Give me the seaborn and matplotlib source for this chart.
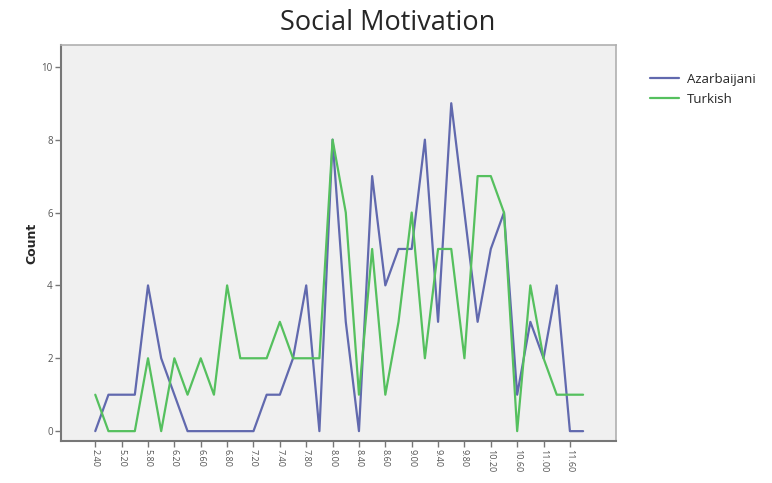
import pandas as pd
import matplotlib.pyplot as plt
import seaborn as sns

# score categories (x axis, categorical, in order)
scores = [
    "2.40", "4.80", "5.20", "5.60", "5.80", "6.00", "6.20", "6.40", "6.60", "6.70",
    "6.80", "7.00", "7.20", "7.30", "7.40", "7.60", "7.80", "7.90", "8.00", "8.20",
    "8.40", "8.50", "8.60", "8.80", "9.00", "9.20", "9.40", "9.60", "9.80", "10.00",
    "10.20", "10.40", "10.60", "10.80", "11.00", "11.20", "11.60", "11.80",
]
azarbaijani = [0, 1, 1, 1, 4, 2, 1, 0, 0, 0, 0, 0, 0, 1, 1, 2, 4, 0, 8, 3,
               0, 7, 4, 5, 5, 8, 3, 9, 6, 3, 5, 6, 1, 3, 2, 4, 0, 0]
turkish = [1, 0, 0, 0, 2, 0, 2, 1, 2, 1, 4, 2, 2, 2, 3, 2, 2, 2, 8, 6,
           1, 5, 1, 3, 6, 2, 5, 5, 2, 7, 7, 6, 0, 4, 2, 1, 1, 1]
groups = ["Azarbaijani", "Turkish"]
colors = ["#6169ae", "#55c05e"]

df = pd.DataFrame({
    "score": scores * 2,
    "count": azarbaijani + turkish,
    "group": [groups[0]] * len(scores) + [groups[1]] * len(scores),
})

sns.set_style("white")
plt.rcParams["font.family"] = ["Open Sans", "DejaVu Sans"]

fig = plt.figure(figsize=(7.72, 4.83), dpi=100)
ax = fig.add_axes([0.079, 0.087, 0.719, 0.82])
ax.set_facecolor("#f0f0f0")

sns.lineplot(data=df, x="score", y="count", hue="group", palette=colors,
             sort=False, linewidth=1.6, ax=ax)

ax.set_xlim(-2.6, 39.5)
ax.set_ylim(-0.27, 10.6)
ax.set_yticks([0, 2, 4, 6, 8, 10])
ax.set_yticklabels(["0", "2", "4", "6", "8", "10"], fontsize=7, color="#555555")
ax.set_xticks(range(0, len(scores), 2))
ax.set_xticklabels(scores[::2], rotation=-90, fontsize=6.5, color="#555555")
ax.tick_params(axis="both", direction="out", length=4, width=1, color="#777777", pad=2)
ax.tick_params(left=True, bottom=True)

for side in ["top", "right"]:
    ax.spines[side].set_color("#b0b0b0")
    ax.spines[side].set_linewidth(1.2)
for side in ["left", "bottom"]:
    ax.spines[side].set_color("#777777")
    ax.spines[side].set_linewidth(1.5)

ax.set_xlabel("")
ax.set_ylabel("Count", fontsize=9, fontweight="bold", family="DejaVu Sans", labelpad=2)

fig.suptitle("Social Motivation", fontsize=19.5, x=0.502, y=0.982)

ax.legend(loc="upper left", bbox_to_anchor=(1.04, 0.96), frameon=False,
          fontsize=9.5, handlelength=2.2, handletextpad=0.6, labelspacing=0.55)

fig.savefig("out.png", dpi=100)
